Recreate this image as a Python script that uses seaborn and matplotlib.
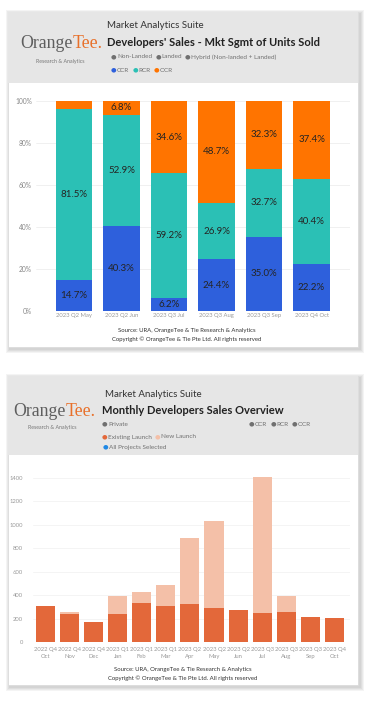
import numpy as np
import pandas as pd
import seaborn as sns
import matplotlib.pyplot as plt
from matplotlib.patches import Rectangle

# top chart - market segment share of units sold (%)
seg_months = ['2023 Q2 May', '2023 Q2 Jun', '2023 Q3 Jul', '2023 Q3 Aug', '2023 Q3 Sep', '2023 Q4 Oct']
ccr = [14.7, 40.3, 6.2, 24.4, 35.0, 22.2]
rcr = [81.5, 52.9, 59.2, 26.9, 32.7, 40.4]
ocr = [3.8, 6.8, 34.6, 48.7, 32.3, 37.4]

# bottom chart - monthly developers sales (units)
sales_months = ['2022 Q4\nOct', '2022 Q4\nNov', '2022 Q4\nDec', '2023 Q1\nJan', '2023 Q1\nFeb',
                '2023 Q1\nMar', '2023 Q2\nApr', '2023 Q2\nMay', '2023 Q2\nJun', '2023 Q3\nJul',
                '2023 Q3\nAug', '2023 Q3\nSep', '2023 Q4\nOct']
existing = [309, 244, 170, 238, 334, 306, 329, 292, 272, 252, 261, 215, 204]
new_launch = [0, 11, 0, 156, 97, 184, 558, 742, 0, 1156, 133, 0, 0]

sns.set_theme(style='white')
plt.rcParams['font.family'] = ['Lato', 'DejaVu Sans']

W, H = 366, 702
fig = plt.figure(figsize=(W / 100, H / 100), dpi=100)
fig.patch.set_facecolor('white')
renderer = fig.canvas.get_renderer()


def rect(x, y, w, h):
    # pixel box (top-left origin) -> figure fraction
    return [x / W, 1 - (y + h) / H, w / W, h / H]


def card(x, y, w, h, head_h):
    # soft shadow, mostly right / bottom
    for k in range(4, 0, -1):
        fig.patches.append(Rectangle(((x - k + 2) / W, 1 - (y + h + k + 2) / H), (w + 2 * k) / W,
                                     (h + 2 * k) / H, transform=fig.transFigure, facecolor='black',
                                     alpha=0.045, edgecolor='none', zorder=0))
    fig.patches.append(Rectangle((x / W, 1 - (y + h) / H), w / W, h / H, transform=fig.transFigure,
                                 facecolor='white', edgecolor='#D8D8D8', lw=0.5, zorder=1))
    fig.patches.append(Rectangle((x / W, 1 - (y + head_h) / H), w / W, head_h / H, transform=fig.transFigure,
                                 facecolor='#E6E6E6', edgecolor='none', zorder=1))


def ftext(x, y, s, **kw):
    return fig.text(x / W, 1 - y / H, s, zorder=5, **kw)


def logo(x, y, ry, rx):
    t = ftext(x, y, 'Orange', family='Liberation Serif', fontsize=12.8, color='#5E5E5E', va='center')
    bb = t.get_window_extent(renderer)
    fig.text(bb.x1 / W, 1 - y / H, 'Tee.', family='Liberation Serif', fontsize=12.8, color='#E8702A',
             va='center', zorder=5)
    ftext(rx, ry, 'Research & Analytics', fontsize=3.8, color='#777777', ha='center', va='center')


def legend_row(x, y, items, size=4.6, gap=2.8):
    # lay the items out one after the other, measuring each text
    for label, c in items:
        d = ftext(x, y, '●', fontsize=size, color=c, va='center', family='DejaVu Sans')
        x = d.get_window_extent(renderer).x1 + 0.6
        t = ftext(x, y, label, fontsize=size, color='#707070', va='center')
        x = t.get_window_extent(renderer).x1 + gap


# ---------------- top card ----------------
card(8, 12, 350, 335, 71)
logo(20, 43, 61, 60)
ftext(107, 26, 'Market Analytics Suite', fontsize=7, color='#333333', va='center')
ftext(107, 42, "Developers' Sales - Mkt Sgmt of Units Sold", fontsize=8, color='#222222',
      fontweight='bold', va='center')
legend_row(111, 57, [('Non-Landed', '#707070'), ('Landed', '#707070'),
                     ('Hybrid (Non-landed + Landed)', '#707070')])
legend_row(111, 70, [('CCR', '#2E60DC'), ('RCR', '#2BC0B5'), ('OCR', '#FF7400')])

ax1 = fig.add_axes(rect(36, 100.7, 314, 210))
cum2 = [a + b for a, b in zip(ccr, rcr)]
cum3 = [a + b for a, b in zip(cum2, ocr)]
sns.barplot(x=seg_months, y=cum3, color='#FF7400', saturation=1, width=0.77, linewidth=0, ax=ax1, zorder=2)
sns.barplot(x=seg_months, y=cum2, color='#2BC0B5', saturation=1, width=0.77, linewidth=0, ax=ax1, zorder=3)
sns.barplot(x=seg_months, y=ccr, color='#2E60DC', saturation=1, width=0.77, linewidth=0, ax=ax1, zorder=4)
for i in range(len(seg_months)):
    for base, val in ((0, ccr[i]), (ccr[i], rcr[i]), (cum2[i], ocr[i])):
        if val >= 5:
            ax1.text(i, base + val / 2, f'{val:.1f}%', ha='center', va='center', fontsize=7,
                     color='#252423', zorder=6)
ax1.set_xlim(-0.8, 5.81)
ax1.set_ylim(0, 100)
ax1.set_yticks([0, 20, 40, 60, 80, 100])
ax1.set_yticklabels([f'{v}%' for v in [0, 20, 40, 60, 80, 100]])
ax1.tick_params(axis='y', labelsize=4.8, labelcolor='#888888', pad=3, length=0)
ax1.tick_params(axis='x', labelsize=4.2, labelcolor='#999999', pad=2, length=0)
ax1.grid(axis='y', color='#EEEEEE', lw=0.6)
ax1.set_axisbelow(True)
ax1.set_xlabel('')
ax1.set_ylabel('')
ax1.patch.set_alpha(0)
sns.despine(ax=ax1, left=True, bottom=True)
ax1.set_zorder(3)

ftext(187, 330.5, 'Source: URA, OrangeTee & Tie Research & Analytics', fontsize=4.3, color='#333333',
      ha='center', va='center')
ftext(187, 338.8, 'Copyright © OrangeTee & Tie Pte Ltd. All rights reserved', fontsize=4.3,
      color='#333333', ha='center', va='center')

# ---------------- bottom card ----------------
card(8, 376, 350, 309, 79)
logo(13, 412, 427, 52)
ftext(105, 394, 'Market Analytics Suite', fontsize=7, color='#333333', va='center')
ftext(102, 410, 'Monthly Developers Sales Overview', fontsize=8, color='#222222',
      fontweight='bold', va='center')
legend_row(102, 424, [('Private', '#707070')])
legend_row(249, 424, [('CCR', '#707070'), ('RCR', '#707070'), ('OCR', '#707070')])
legend_row(102, 437, [('Existing Launch', '#E3683A'), ('New Launch', '#F4C0A8')])
legend_row(103, 447, [('All Projects Selected', '#1E88E5')])

ax2 = fig.add_axes(rect(33, 465.9, 317, 176.4))
totals = [e + n for e, n in zip(existing, new_launch)]
sns.barplot(x=sales_months, y=totals, color='#F4C0A8', saturation=1, width=0.79, linewidth=0, ax=ax2, zorder=2)
sns.barplot(x=sales_months, y=existing, color='#E3683A', saturation=1, width=0.79, linewidth=0, ax=ax2, zorder=3)
ax2.set_xlim(-0.52, 12.65)
ax2.set_ylim(0, 1500)
ax2.set_yticks(range(0, 1401, 200))
ax2.tick_params(axis='y', labelsize=4.2, labelcolor='#999999', pad=7, length=0)
ax2.tick_params(axis='x', labelsize=4.2, labelcolor='#999999', pad=3.5, length=0)
for lab in ax2.get_xticklabels():
    lab.set_linespacing(1.35)
ax2.grid(axis='y', color='#F2F2F2', lw=0.6)
ax2.set_axisbelow(True)
ax2.set_xlabel('')
ax2.set_ylabel('')
ax2.patch.set_alpha(0)
sns.despine(ax=ax2, left=True, bottom=True)
ax2.set_zorder(3)

ftext(183, 669.5, 'Source: URA, OrangeTee & Tie Research & Analytics', fontsize=4.3, color='#333333',
      ha='center', va='center')
ftext(183, 678, 'Copyright © OrangeTee & Tie Pte Ltd. All rights reserved', fontsize=4.3,
      color='#333333', ha='center', va='center')

fig.savefig('out.png', dpi=100)
